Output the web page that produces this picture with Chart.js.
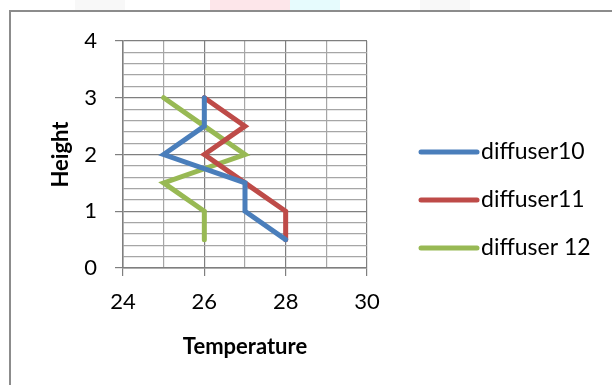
<!DOCTYPE html>
<html>
<head>
<meta charset="utf-8">
<script src="https://cdn.jsdelivr.net/npm/chart.js@4"></script>
<style>
  body { margin: 0; background: #fff; }
  #wrap { position: relative; width: 612px; height: 385px; overflow: hidden; }
  .deco { position: absolute; top: 0; height: 10px; }
  #frame { position: absolute; left: 9px; top: 10px; width: 700px; height: 500px;
           border-left: 2px solid #8c8c8c; border-top: 2px solid #8c8c8c; }
  canvas { position: absolute; left: 0; top: 0; }
</style>
</head>
<body>
<div id="wrap">
  <div class="deco" style="left:210px;width:80px;background:#fde6ea"></div>
  <div class="deco" style="left:290px;width:50px;background:#e6fbfd"></div>
  <div class="deco" style="left:75px;width:50px;background:#f8f8f8"></div>
  <div class="deco" style="left:420px;width:50px;background:#f8f8f8"></div>
  <div id="frame"></div>
  <canvas id="chart" width="612" height="385"></canvas>
</div>
<script>
// données
const heights = [3, 2.5, 2, 1.5, 1, 0.5];
const temp10 = [26, 26, 25, 27, 27, 28];
const temp11 = [26, 27, 26, 27, 28, 28];
const temp12 = [25, 26, 27, 25, 26, 26];
const seriesNames = ['diffuser10', 'diffuser11', 'diffuser 12'];
const seriesColors = ['#4a7ebb', '#be4b48', '#98b954'];
const xTicks = [24, 26, 28, 30];
const yTicks = [0, 1, 2, 3, 4];

const FONT = 'Lato';
const isInt = v => Math.abs(v - Math.round(v)) < 1e-6;

const toPoints = (temps) => temps.map((t, i) => ({ x: t, y: heights[i] }));

const legendPlugin = {
  id: 'sideLegend',
  afterDraw(chart) {
    const c = chart.ctx;
    c.save();
    chart.data.datasets.forEach((ds, i) => {
      const y = 152 + i * 48;
      c.strokeStyle = ds.borderColor;
      c.lineWidth = 5;
      c.lineCap = 'round';
      c.beginPath();
      c.moveTo(421, y);
      c.lineTo(477, y);
      c.stroke();
      c.fillStyle = '#000';
      c.font = '23px ' + FONT;
      c.textBaseline = 'middle';
      c.textAlign = 'left';
      c.fillText(ds.label, 481, y);
    });
    c.restore();
  }
};

const datasets = [temp10, temp11, temp12].map((temps, i) => ({
  label: seriesNames[i],
  data: toPoints(temps),
  showLine: true,
  borderColor: seriesColors[i],
  backgroundColor: seriesColors[i],
  borderWidth: 5,
  pointRadius: 0,
  borderCapStyle: 'round',
  borderJoinStyle: 'miter',
  tension: 0,
}));

new Chart(document.getElementById('chart').getContext('2d'), {
  type: 'scatter',
  data: { datasets },
  plugins: [legendPlugin],
  options: {
    responsive: false,
    animation: false,
    events: [],
    layout: { padding: { top: 41, right: 245, bottom: 21, left: 44 } },
    plugins: { legend: { display: false }, tooltip: { enabled: false } },
    scales: {
      x: {
        type: 'linear',
        min: 24,
        max: 30,
        afterFit: s => { s.height = 96; },
        border: { color: '#7f7f7f', width: 1.5 },
        grid: {
          color: ctx => (ctx.tick && ctx.tick.value % 2 === 0) ? '#7f7f7f' : '#a6a6a6',
          lineWidth: 1.2,
          tickColor: ctx => (ctx.tick && xTicks.includes(ctx.tick.value)) ? '#7f7f7f' : 'rgba(0,0,0,0)',
          tickLength: 8,
        },
        ticks: {
          stepSize: 1,
          autoSkip: false,
          maxRotation: 0,
          padding: 13,
          color: '#000',
          font: { family: FONT, size: 22 },
          callback: v => xTicks.includes(v) ? String(v) : '',
        },
        title: {
          display: true,
          text: 'Temperature',
          color: '#000',
          font: { family: FONT, size: 22, weight: 'bold' },
        },
      },
      y: {
        type: 'linear',
        min: 0,
        max: 4,
        afterFit: s => { s.width = 79; },
        border: { color: '#7f7f7f', width: 1.5 },
        grid: {
          color: ctx => (ctx.tick && isInt(ctx.tick.value)) ? '#7f7f7f' : '#a6a6a6',
          lineWidth: 1.2,
          tickColor: ctx => (ctx.tick && isInt(ctx.tick.value)) ? '#7f7f7f' : 'rgba(0,0,0,0)',
          tickLength: 8,
        },
        ticks: {
          stepSize: 0.2,
          autoSkip: false,
          padding: 18,
          color: '#000',
          font: { family: FONT, size: 22 },
          callback: v => {
            const r = Math.round(v);
            return (isInt(v) && yTicks.includes(r)) ? String(r) : '';
          },
        },
        title: {
          display: true,
          text: 'Height',
          color: '#000',
          font: { family: FONT, size: 22, weight: 'bold' },
        },
      },
    },
  },
});
</script>
</body>
</html>
